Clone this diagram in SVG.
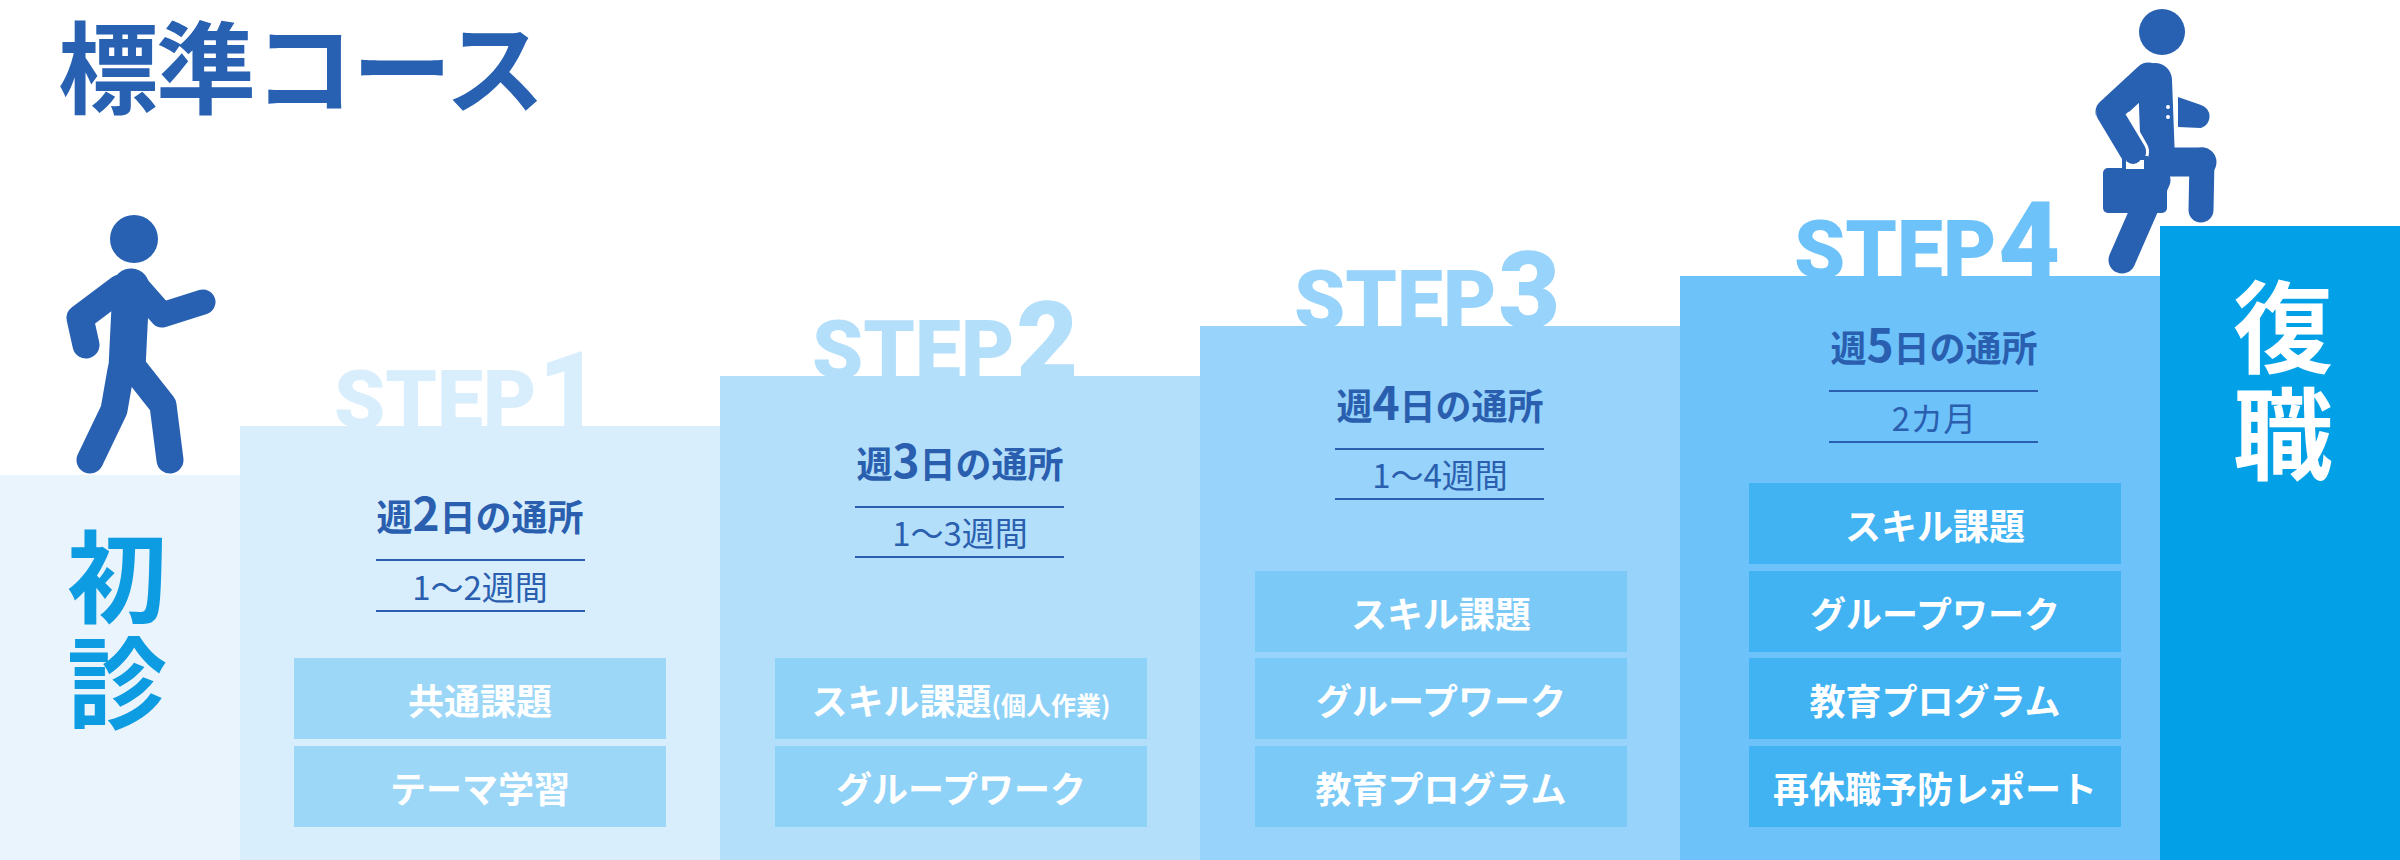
<svg xmlns="http://www.w3.org/2000/svg" width="2400" height="860" viewBox="0 0 2400 860">
<style>
.jp{font-family:"Noto Sans CJK JP","Noto Sans CJK SC",sans-serif}
.hd{font-family:"Noto Sans CJK JP",sans-serif;font-weight:700;fill:#2A5FB0;text-anchor:middle;font-size:36px}
.sub{font-family:"Noto Sans CJK JP",sans-serif;font-weight:400;fill:#2A5FB0;text-anchor:middle;font-size:33px}
.item{font-family:"Noto Sans CJK JP",sans-serif;font-weight:700;fill:#FFFFFF;text-anchor:middle;font-size:36px}
.step{font-family:Roboto,"Liberation Sans",sans-serif;font-weight:900}
.rule{stroke:#2A5FB0;stroke-width:2}
.fig{fill:none;stroke:#2860B2;stroke-linecap:round;stroke-linejoin:round}
</style>
<rect width="2400" height="860" fill="#FFFFFF"/>
<text id="title" class="jp" x="58" y="106" font-size="100" font-weight="700" fill="#2860B2" letter-spacing="-2">標準コース</text>

<g id="shoshin">
<rect x="0" y="475" width="240" height="385" fill="#EAF4FD"/>
<text class="jp" x="117" y="615" font-size="100" font-weight="700" fill="#0D9BE2" text-anchor="middle">初</text>
<text class="jp" x="117" y="721" font-size="100" font-weight="700" fill="#0D9BE2" text-anchor="middle">診</text>
</g>

<g id="step1">
<rect x="240" y="426" width="480" height="434" fill="#D9EEFC"/>
<text class="step" x="334" y="428" fill="#D9EEFC"><tspan font-size="82">STEP</tspan><tspan font-size="107" dx="2">1</tspan></text>
<text class="hd" x="480" y="531">週<tspan font-size="46">2</tspan>日の通所</text>
<line class="rule" x1="376" y1="560" x2="585" y2="560"/>
<text class="sub" x="480" y="600">1〜2週間</text>
<line class="rule" x1="376" y1="611" x2="585" y2="611"/>
<rect x="294" y="658" width="372" height="81" fill="#9DD7F8"/>
<text class="item" x="480" y="715">共通課題</text>
<rect x="294" y="746" width="372" height="81" fill="#9DD7F8"/>
<text class="item" x="480" y="803">テーマ学習</text>
</g>

<g id="step2">
<rect x="720" y="376" width="480" height="484" fill="#B4DFFB"/>
<text class="step" x="812" y="378" fill="#B4DFFB"><tspan font-size="82">STEP</tspan><tspan font-size="107" dx="2">2</tspan></text>
<text class="hd" x="960" y="478">週<tspan font-size="46">3</tspan>日の通所</text>
<line class="rule" x1="855" y1="507" x2="1064" y2="507"/>
<text class="sub" x="960" y="546">1〜3週間</text>
<line class="rule" x1="855" y1="557" x2="1064" y2="557"/>
<rect x="775" y="658" width="372" height="81" fill="#8FD2F8"/>
<text class="item" x="961" y="715">スキル課題<tspan font-size="25">(個人作業)</tspan></text>
<rect x="775" y="746" width="372" height="81" fill="#8FD2F8"/>
<text class="item" x="961" y="803">グループワーク</text>
</g>

<g id="step3">
<rect x="1200" y="326" width="480" height="534" fill="#97D3FA"/>
<text class="step" x="1294" y="328" fill="#97D3FA"><tspan font-size="82">STEP</tspan><tspan font-size="107" dx="2">3</tspan></text>
<text class="hd" x="1440" y="420">週<tspan font-size="46">4</tspan>日の通所</text>
<line class="rule" x1="1335" y1="449" x2="1544" y2="449"/>
<text class="sub" x="1440" y="488">1〜4週間</text>
<line class="rule" x1="1335" y1="499" x2="1544" y2="499"/>
<rect x="1255" y="571" width="372" height="81" fill="#7BC9F7"/>
<text class="item" x="1441" y="628">スキル課題</text>
<rect x="1255" y="658" width="372" height="81" fill="#7BC9F7"/>
<text class="item" x="1441" y="715">グループワーク</text>
<rect x="1255" y="746" width="372" height="81" fill="#7BC9F7"/>
<text class="item" x="1441" y="803">教育プログラム</text>
</g>

<g id="step4">
<rect x="1680" y="276" width="480" height="584" fill="#6DC2FA"/>
<text class="step" x="1794" y="278" fill="#6DC2FA"><tspan font-size="82">STEP</tspan><tspan font-size="107" dx="2">4</tspan></text>
<text class="hd" x="1934" y="362">週<tspan font-size="46">5</tspan>日の通所</text>
<line class="rule" x1="1829" y1="391" x2="2038" y2="391"/>
<text class="sub" x="1934" y="431">2カ月</text>
<line class="rule" x1="1829" y1="442" x2="2038" y2="442"/>
<rect x="1749" y="483" width="372" height="81" fill="#41B3F3"/>
<text class="item" x="1935" y="540">スキル課題</text>
<rect x="1749" y="571" width="372" height="81" fill="#41B3F3"/>
<text class="item" x="1935" y="628">グループワーク</text>
<rect x="1749" y="658" width="372" height="81" fill="#41B3F3"/>
<text class="item" x="1935" y="715">教育プログラム</text>
<rect x="1749" y="746" width="372" height="81" fill="#41B3F3"/>
<text class="item" x="1935" y="803">再休職予防レポート</text>
</g>

<g id="fukushoku">
<rect x="2160" y="226" width="240" height="634" fill="#02A0E6"/>
<text class="jp" x="2283" y="365" font-size="100" font-weight="700" fill="#FFFFFF" text-anchor="middle">復</text>
<text class="jp" x="2283" y="472" font-size="100" font-weight="700" fill="#FFFFFF" text-anchor="middle">職</text>
</g>

<g id="walker">
<circle cx="134" cy="239" r="24" fill="#2860B2"/>
<polyline class="fig" stroke-width="37" points="131,287 127,368"/>
<polyline class="fig" stroke-width="27" points="120,288 80,318 86,345"/>
<polyline class="fig" stroke-width="25" points="140,290 162,315 203,302"/>
<polyline class="fig" stroke-width="27" points="121,370 114,410 90,460"/>
<polyline class="fig" stroke-width="27" points="137,372 163,405 170,460"/>
</g>

<g id="worker">
<circle cx="2162" cy="32" r="23" fill="#2860B2"/>
<polyline class="fig" stroke-width="27" points="2157,180 2122,260"/>
<polyline class="fig" stroke-width="34" points="2155,80 2158,160"/>
<polyline class="fig" stroke-width="29" points="2158,162 2202,162"/>
<polyline class="fig" stroke-width="25" points="2202,160 2201,210"/>
<polyline class="fig" stroke-width="27" points="2148,76 2109,112"/>
<polyline fill="none" stroke="#FFFFFF" stroke-width="32" stroke-linecap="round" points="2112,115 2133,152"/>
<polyline class="fig" stroke-width="26" points="2148,76 2109,112 2133,152"/>
<rect x="2103" y="168" width="64" height="45" rx="5" fill="#2860B2"/>
<path d="M2124,169 V158 H2146 V169" fill="#FFFFFF" stroke="#2860B2" stroke-width="4"/>
<circle cx="2133" cy="155" r="9" fill="#2860B2"/>
<path d="M2178,97 L2201,105 A12,12 0 0 1 2201,128 L2178,127 Z" fill="#2860B2"/>
<circle cx="2168" cy="107" r="2" fill="#FFFFFF"/>
<circle cx="2168" cy="117" r="2" fill="#FFFFFF"/>
</g>

<g id="connectors"></g>
</svg>
